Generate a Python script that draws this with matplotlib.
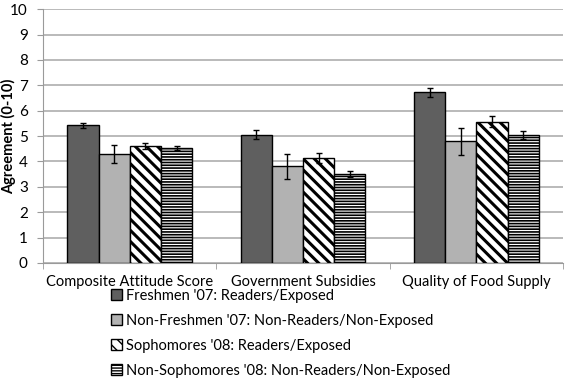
import numpy as np
import matplotlib
matplotlib.use("Agg")
import matplotlib.pyplot as plt

categories = ["Composite Attitude Score", "Government Subsidies", "Quality of Food Supply"]
series_names = [
    "Freshmen '07: Readers/Exposed",
    "Non-Freshmen '07: Non-Readers/Non-Exposed",
    "Sophomores '08: Readers/Exposed",
    "Non-Sophomores '08: Non-Readers/Non-Exposed",
]
freshmen = [5.42, 5.05, 6.72]
freshmen_err = [0.10, 0.18, 0.19]
non_freshmen = [4.30, 3.80, 4.80]
non_freshmen_err = [0.35, 0.50, 0.53]
sophomores = [4.60, 4.12, 5.56]
sophomores_err = [0.12, 0.20, 0.22]
non_sophomores = [4.52, 3.52, 5.03]
non_sophomores_err = [0.08, 0.12, 0.15]

plt.rcParams['font.family'] = ['Lato', 'DejaVu Sans']

fig = plt.figure(figsize=(5.67, 3.81), dpi=100)
ax = fig.add_axes([0.076, 0.31, 0.917, 0.666])

values = [freshmen, non_freshmen, sophomores, non_sophomores]
errors = [freshmen_err, non_freshmen_err, sophomores_err, non_sophomores_err]
faces = ["#5f5f5f", "#b2b2b2", "white", "white"]
hatches = [None, None, "\\\\\\", "------"]
hatch_lw = [1.0, 1.0, 2.2, 1.2]

x = np.arange(len(categories))
width = 0.18
handles = []
for i in range(4):
    with plt.rc_context({'hatch.linewidth': hatch_lw[i], 'hatch.color': 'black'}):
        b = ax.bar(x + (i - 1.5) * width, values[i], width, color=faces[i],
                   edgecolor="black", linewidth=1.0, hatch=hatches[i],
                   yerr=errors[i], capsize=2.5,
                   error_kw=dict(elinewidth=1, ecolor="black", capthick=1),
                   label=series_names[i], zorder=3)
    handles.append(b)

ax.set_xlim(-0.5, 2.5)
ax.set_ylim(0, 10)
ax.set_yticks(range(0, 11))
ax.yaxis.grid(True, color="#b4b4b4", linewidth=1.3, zorder=0)
ax.set_axisbelow(True)

ax.set_xticks(x)
ax.set_xticklabels(categories, fontsize=10.5)
ax.set_xticks([-0.5, 0.5, 1.5, 2.5], minor=True)
ax.tick_params(axis="x", which="major", length=0, pad=9)
ax.tick_params(axis="x", which="minor", length=4, color="#9a9a9a")
ax.tick_params(axis="y", length=4, color="#9a9a9a", labelsize=11, pad=7)

for s in ["top", "right"]:
    ax.spines[s].set_visible(False)
for s in ["left", "bottom"]:
    ax.spines[s].set_color("#9a9a9a")

ax.set_ylabel("Agreement (0-10)", fontsize=10.5, fontweight="bold")
ax.yaxis.set_label_coords(-0.052, 0.5)

fig.legend(handles=handles, labels=series_names, loc="upper left",
           bbox_to_anchor=(0.195, 0.242), frameon=False, fontsize=10.5,
           handlelength=0.75, handleheight=0.75, handletextpad=0.3,
           labelspacing=0.75, borderpad=0, borderaxespad=0)

fig.savefig("out.png", dpi=100)
